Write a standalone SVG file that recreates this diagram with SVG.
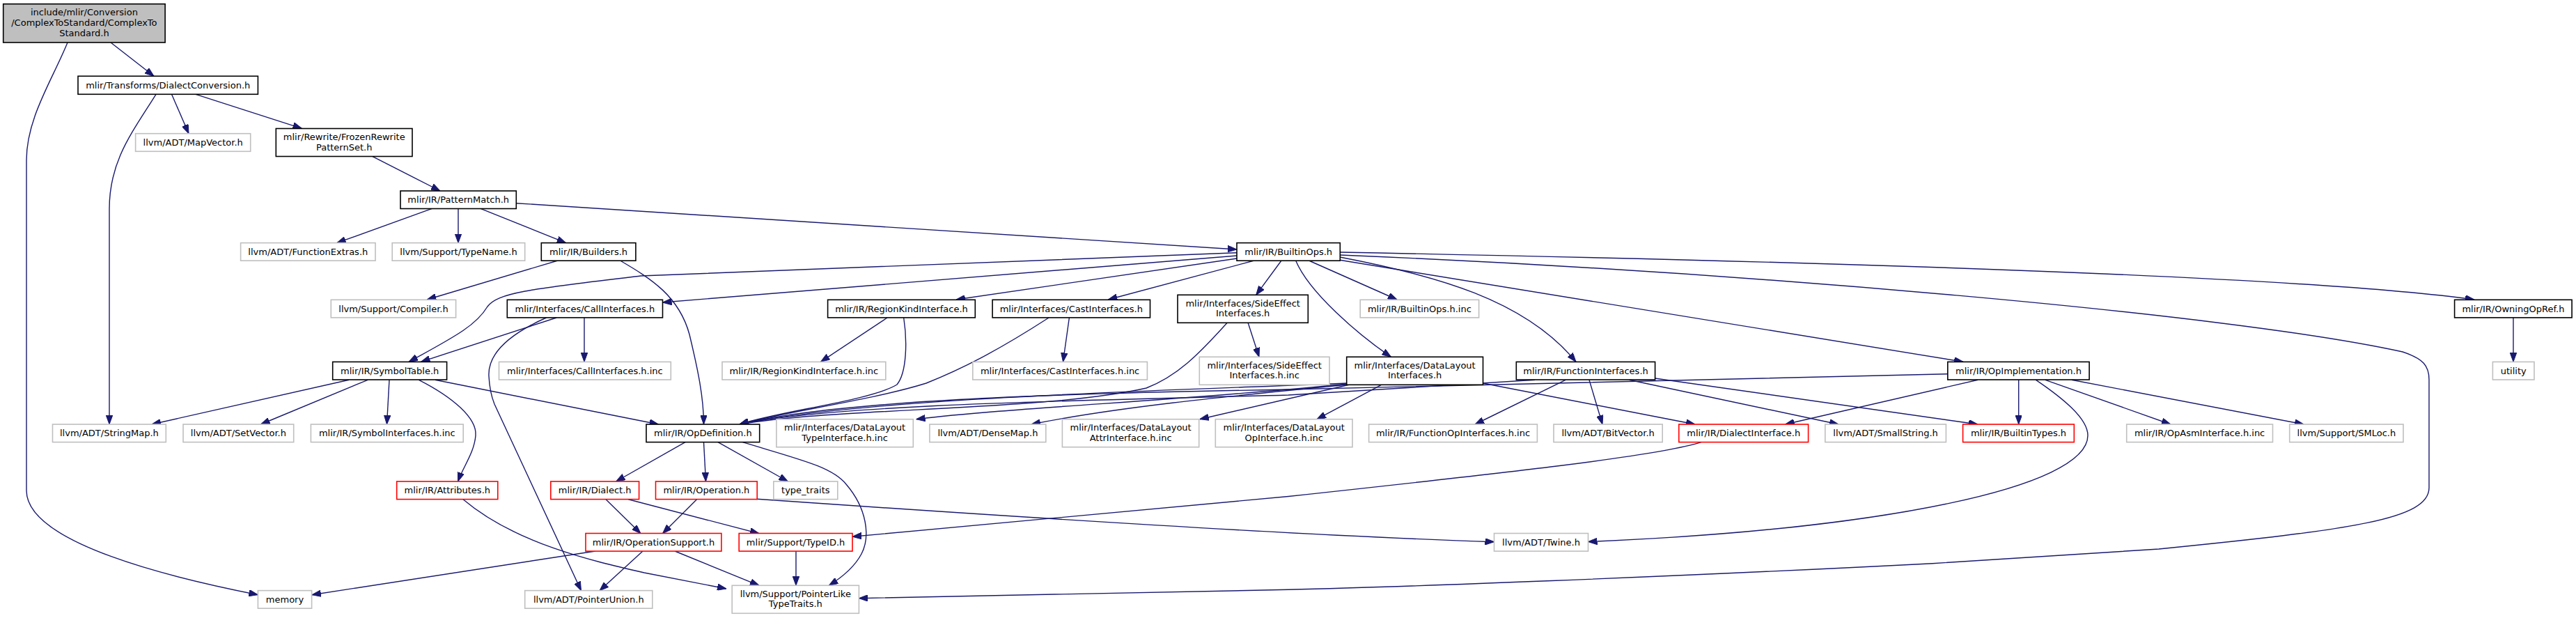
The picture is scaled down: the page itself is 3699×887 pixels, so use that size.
<svg xmlns="http://www.w3.org/2000/svg" width="3699" height="887" viewBox="0 0 3699 887">
<style>
.e{fill:none;stroke:#191970;stroke-width:1.4;marker-end:url(#ah)}
rect{stroke-width:1.6}
.b{fill:#fff;stroke:#000}
.g{fill:#fff;stroke:#bfbfbf}
.r{fill:#fff;stroke:#ff0000}
.root{fill:#bfbfbf;stroke:#000}
text{font-family:"DejaVu Sans",Verdana,sans-serif;font-size:13px;text-anchor:middle;fill:#000}
</style>
<defs>
<marker id="ah" viewBox="0 0 13 9.5" refX="13" refY="4.75" markerWidth="13" markerHeight="9.5" markerUnits="userSpaceOnUse" orient="auto">
<path d="M0,0 L13,4.75 L0,9.5 Z" fill="#191970" stroke="#191970" stroke-width="1"/>
</marker>
</defs>
<rect x="0" y="0" width="3699" height="887" fill="#fff"/>
<g id="edges">
<path class="e" d="M159,61 L221,109.3"/>
<path class="e" d="M97,61 C75,115 38,170 38,230 L38,704 C38,780 250,830 370.4,853.7"/>
<path class="e" d="M224,135.3 C190,190 157,230 157,300 L157,609"/>
<path class="e" d="M246.5,135.3 L271,191.7"/>
<path class="e" d="M281,135.3 L433.4,184.3"/>
<path class="e" d="M535,224.7 L632,274"/>
<path class="e" d="M741,291.7 L1776,358"/>
<path class="e" d="M620.4,299.3 L483.6,348.7"/>
<path class="e" d="M658,299.3 L658,348.7"/>
<path class="e" d="M690,299.3 L812.7,348.7"/>
<path class="e" d="M801,374 L613.3,430"/>
<path class="e" d="M890.5,374 C935,400 975,425 990,480 C1002,530 1010.5,570 1010.5,609"/>
<path class="e" d="M1776,362.7 L920,396 C760,415 715,420 700,440 C685,465 660,480 587,519.3"/>
<path class="e" d="M799,456 L604.5,519.3"/>
<path class="e" d="M839,456 L839,519.3"/>
<path class="e" d="M784.4,456 C735,478 700,505 702,540 C703,560 706,570 710,580 L834.5,847.7"/>
<path class="e" d="M1776,367 L951.5,434"/>
<path class="e" d="M1776,371 L1373,430"/>
<path class="e" d="M1801,374 L1591.4,430"/>
<path class="e" d="M1840,374 L1803.7,423.3"/>
<path class="e" d="M1274,456 L1178.6,519.3"/>
<path class="e" d="M1297.7,456 C1303,490 1302,535 1288,552 C1250,575 1120,590 1062,609"/>
<path class="e" d="M1535.4,456 L1526.5,519.3"/>
<path class="e" d="M1506,456 C1430,505 1380,530 1330,550 C1250,575 1120,592 1062,609"/>
<path class="e" d="M1792,463 L1808,512.3"/>
<path class="e" d="M1762.4,463 C1720,510 1690,540 1646,557 C1500,590 1200,585 1062,609"/>
<path class="e" d="M1879.5,374 L2006,430"/>
<path class="e" d="M1860.6,374 C1880,420 1950,480 1997.4,512.3"/>
<path class="e" d="M1924,369 C2060,395 2190,430 2263,519.3"/>
<path class="e" d="M1924,373.3 L2819,519.3"/>
<path class="e" d="M1924,362 C2600,375 3300,395 3553,430"/>
<path class="e" d="M1924,366 C2500,390 3200,450 3450,505 C3480,515 3488,525 3488,545 L3488,700 C3488,745 3380,760 3100,788 L2775,808.7 C2400,828 2000,843 1850,846.3 L1233.4,858.7"/>
<path class="e" d="M3609,456 L3609,519.3"/>
<path class="e" d="M501,545.3 L218,609"/>
<path class="e" d="M528,545.3 L374.5,609"/>
<path class="e" d="M559,545.3 L555.5,609"/>
<path class="e" d="M601.5,545.3 C650,570 685,600 683,625 C681,650 665,670 657.6,691"/>
<path class="e" d="M625,545.3 L945.6,609"/>
<path class="e" d="M984,634.7 L884.6,691"/>
<path class="e" d="M1010.5,634.7 L1013.5,691"/>
<path class="e" d="M1031,634.7 L1131.4,691"/>
<path class="e" d="M1066.5,634.7 C1150,660 1195,670 1215,695 C1245,730 1250,770 1237,795 C1228,812 1210,828 1190.4,840.3"/>
<path class="e" d="M870,716.7 L920,765.7"/>
<path class="e" d="M902.3,716.7 L1090,765.7"/>
<path class="e" d="M1000.5,716.7 L951.5,765.7"/>
<path class="e" d="M1087,716.3 C1500,745 1900,770 2145.5,777.7"/>
<path class="e" d="M665,716.7 C740,780 850,805 925,822 L1043,845"/>
<path class="e" d="M855,791 L448,853.7"/>
<path class="e" d="M923,791 L861,847.7"/>
<path class="e" d="M969,791 L1090,840.3"/>
<path class="e" d="M1143,791 L1143,840.3"/>
<path class="e" d="M2442.7,634.7 C2380,655 2150,680 1850,712.5 L1224,770.3"/>
<path class="e" d="M2129.5,550 L2434,609"/>
<path class="e" d="M2248,545.3 L2118,609"/>
<path class="e" d="M2282,545.3 L2301,609"/>
<path class="e" d="M2339.5,545.3 L2640,609"/>
<path class="e" d="M2376.6,543 L2840,609"/>
<path class="e" d="M2840,545.3 L2563.6,609"/>
<path class="e" d="M2898.7,545.3 L2898.7,609"/>
<path class="e" d="M2923.5,545.3 C2960,570 2998,600 2998,625 C2998,700 2700,760 2280.5,777.5"/>
<path class="e" d="M2937,545.3 L3116.8,609"/>
<path class="e" d="M2975,545.3 L3308,609"/>
<path class="e" d="M2796.8,536.7 L1850,559 C1500,565 1200,575 1062,609"/>
<path class="e" d="M2204,545.3 L1850,567 C1550,575 1200,580 1062,609"/>
<path class="e" d="M1934,550 C1700,560 1250,570 1062,609"/>
<path class="e" d="M1934,551 C1700,575 1450,585 1315.6,601.7"/>
<path class="e" d="M1936,552 C1750,570 1600,585 1481,609"/>
<path class="e" d="M1938,552 L1722.8,601.7"/>
<path class="e" d="M1983,552.7 L1891,601.7"/>
</g>
<g id="n_root"><rect class="root" x="4.7" y="5.7" width="232.4" height="55.3"/><text x="120.9" y="22">include/mlir/Conversion</text><text x="120.9" y="37">/ComplexToStandard/ComplexTo</text><text x="120.9" y="51.5">Standard.h</text></g>
<g id="n_dc"><rect class="b" x="112" y="109.3" width="258.4" height="26"/><text x="241.2" y="126.6">mlir/Transforms/DialectConversion.h</text></g>
<g id="n_mapvec"><rect class="g" x="194.6" y="191.7" width="165.1" height="25.6"/><text x="277.2" y="209">llvm/ADT/MapVector.h</text></g>
<g id="n_frozen"><rect class="b" x="396.3" y="184.5" width="195.7" height="40"/><text x="494.2" y="201">mlir/Rewrite/FrozenRewrite</text><text x="494.2" y="215.5">PatternSet.h</text></g>
<g id="n_pm"><rect class="b" x="575" y="274" width="166.3" height="25.5"/><text x="658.2" y="291.3">mlir/IR/PatternMatch.h</text></g>
<g id="n_funcext"><rect class="g" x="345.6" y="348.6" width="193.4" height="25.6"/><text x="442.3" y="366">llvm/ADT/FunctionExtras.h</text></g>
<g id="n_typename"><rect class="g" x="563.2" y="348.6" width="190.5" height="25.6"/><text x="658.5" y="366">llvm/Support/TypeName.h</text></g>
<g id="n_builders"><rect class="b" x="777.3" y="348.6" width="135.6" height="25.6"/><text x="845.1" y="366">mlir/IR/Builders.h</text></g>
<g id="n_builtinops"><rect class="b" x="1776" y="348.6" width="148.3" height="25.6"/><text x="1850.2" y="366">mlir/IR/BuiltinOps.h</text></g>
<g id="n_compiler"><rect class="g" x="475.3" y="430.3" width="179.3" height="25.6"/><text x="565" y="447.6">llvm/Support/Compiler.h</text></g>
<g id="n_callif"><rect class="b" x="728.3" y="430.3" width="223.2" height="25.6"/><text x="839.9" y="447.6">mlir/Interfaces/CallInterfaces.h</text></g>
<g id="n_regionkind"><rect class="b" x="1188.6" y="430.3" width="211.7" height="25.6"/><text x="1294.5" y="447.6">mlir/IR/RegionKindInterface.h</text></g>
<g id="n_castif"><rect class="b" x="1425.1" y="430.3" width="226.4" height="25.6"/><text x="1538.3" y="447.6">mlir/Interfaces/CastInterfaces.h</text></g>
<g id="n_sideeffect"><rect class="b" x="1691" y="423.3" width="187.3" height="40"/><text x="1784.7" y="439.8">mlir/Interfaces/SideEffect</text><text x="1784.7" y="454.3">Interfaces.h</text></g>
<g id="n_builtinopsinc"><rect class="g" x="1953.2" y="430.3" width="170.4" height="25.6"/><text x="2038.4" y="447.6">mlir/IR/BuiltinOps.h.inc</text></g>
<g id="n_owning"><rect class="b" x="3524.6" y="430.3" width="168.5" height="25.6"/><text x="3608.9" y="447.6">mlir/IR/OwningOpRef.h</text></g>
<g id="n_symtab"><rect class="b" x="477.7" y="519.4" width="163.9" height="25.6"/><text x="559.7" y="536.7">mlir/IR/SymbolTable.h</text></g>
<g id="n_callifinc"><rect class="g" x="716.5" y="519.4" width="246.8" height="25.6"/><text x="839.9" y="536.7">mlir/Interfaces/CallInterfaces.h.inc</text></g>
<g id="n_regionkindinc"><rect class="g" x="1037" y="519.4" width="234.8" height="25.6"/><text x="1154.4" y="536.7">mlir/IR/RegionKindInterface.h.inc</text></g>
<g id="n_castifinc"><rect class="g" x="1396.8" y="519.4" width="250.6" height="25.6"/><text x="1522.1" y="536.7">mlir/Interfaces/CastInterfaces.h.inc</text></g>
<g id="n_sideeffectinc"><rect class="g" x="1722.3" y="512.3" width="186.7" height="40"/><text x="1815.7" y="528.8">mlir/Interfaces/SideEffect</text><text x="1815.7" y="543.3">Interfaces.h.inc</text></g>
<g id="n_datalayout"><rect class="b" x="1933.7" y="512.3" width="195.8" height="40"/><text x="2031.6" y="528.8">mlir/Interfaces/DataLayout</text><text x="2031.6" y="543.3">Interfaces.h</text></g>
<g id="n_funcif"><rect class="b" x="2177.3" y="519.4" width="199.3" height="25.6"/><text x="2277" y="536.7">mlir/IR/FunctionInterfaces.h</text></g>
<g id="n_opimpl"><rect class="b" x="2796.8" y="519.4" width="203.3" height="25.6"/><text x="2898.5" y="536.7">mlir/IR/OpImplementation.h</text></g>
<g id="n_utility"><rect class="g" x="3579.4" y="519.4" width="59.6" height="25.6"/><text x="3609.2" y="536.7">utility</text></g>
<g id="n_stringmap"><rect class="g" x="75.5" y="609" width="162.8" height="25.6"/><text x="156.9" y="626.3">llvm/ADT/StringMap.h</text></g>
<g id="n_setvector"><rect class="g" x="263" y="609" width="158.7" height="25.6"/><text x="342.4" y="626.3">llvm/ADT/SetVector.h</text></g>
<g id="n_symifinc"><rect class="g" x="446.4" y="609" width="218.8" height="25.6"/><text x="555.8" y="626.3">mlir/IR/SymbolInterfaces.h.inc</text></g>
<g id="n_opdef"><rect class="b" x="928" y="609" width="162.7" height="25.6"/><text x="1009.4" y="626.3">mlir/IR/OpDefinition.h</text></g>
<g id="n_dltype"><rect class="g" x="1114.9" y="601.7" width="196.4" height="40"/><text x="1213.1" y="618.2">mlir/Interfaces/DataLayout</text><text x="1213.1" y="632.7">TypeInterface.h.inc</text></g>
<g id="n_densemap"><rect class="g" x="1334.9" y="609" width="166.9" height="25.6"/><text x="1418.4" y="626.3">llvm/ADT/DenseMap.h</text></g>
<g id="n_dlattr"><rect class="g" x="1525.4" y="601.7" width="196.3" height="40"/><text x="1623.6" y="618.2">mlir/Interfaces/DataLayout</text><text x="1623.6" y="632.7">AttrInterface.h.inc</text></g>
<g id="n_dlop"><rect class="g" x="1745.3" y="601.7" width="196.7" height="40"/><text x="1843.7" y="618.2">mlir/Interfaces/DataLayout</text><text x="1843.7" y="632.7">OpInterface.h.inc</text></g>
<g id="n_funcopinc"><rect class="g" x="1965.6" y="609" width="241.8" height="25.6"/><text x="2086.5" y="626.3">mlir/IR/FunctionOpInterfaces.h.inc</text></g>
<g id="n_bitvector"><rect class="g" x="2231" y="609" width="156.2" height="25.6"/><text x="2309.1" y="626.3">llvm/ADT/BitVector.h</text></g>
<g id="n_dialectif"><rect class="r" x="2410.8" y="609" width="185.8" height="25.6"/><text x="2503.7" y="626.3">mlir/IR/DialectInterface.h</text></g>
<g id="n_smallstring"><rect class="g" x="2620.8" y="609" width="173.6" height="25.6"/><text x="2707.6" y="626.3">llvm/ADT/SmallString.h</text></g>
<g id="n_builtintypes"><rect class="r" x="2818.6" y="609" width="159.7" height="25.6"/><text x="2898.5" y="626.3">mlir/IR/BuiltinTypes.h</text></g>
<g id="n_opasminc"><rect class="g" x="3053.7" y="609" width="209.8" height="25.6"/><text x="3158.6" y="626.3">mlir/IR/OpAsmInterface.h.inc</text></g>
<g id="n_smloc"><rect class="g" x="3287.7" y="609" width="163.3" height="25.6"/><text x="3369.4" y="626.3">llvm/Support/SMLoc.h</text></g>
<g id="n_attributes"><rect class="r" x="569.7" y="691" width="145.1" height="25.6"/><text x="642.3" y="708.3">mlir/IR/Attributes.h</text></g>
<g id="n_dialect"><rect class="r" x="790.8" y="691" width="126.8" height="25.6"/><text x="854.2" y="708.3">mlir/IR/Dialect.h</text></g>
<g id="n_operation"><rect class="r" x="941.5" y="691" width="145.7" height="25.6"/><text x="1014.4" y="708.3">mlir/IR/Operation.h</text></g>
<g id="n_typetraits"><rect class="g" x="1110.8" y="691" width="92" height="25.6"/><text x="1156.8" y="708.3">type_traits</text></g>
<g id="n_opsupport"><rect class="r" x="841" y="765.5" width="194.9" height="25.6"/><text x="938.5" y="782.8">mlir/IR/OperationSupport.h</text></g>
<g id="n_typeid"><rect class="r" x="1061.2" y="765.5" width="162.8" height="25.6"/><text x="1142.6" y="782.8">mlir/Support/TypeID.h</text></g>
<g id="n_twine"><rect class="g" x="2145.5" y="765.5" width="135" height="25.6"/><text x="2213" y="782.8">llvm/ADT/Twine.h</text></g>
<g id="n_memory"><rect class="g" x="370.4" y="847.6" width="77.2" height="25.6"/><text x="409" y="864.9">memory</text></g>
<g id="n_ptrunion"><rect class="g" x="753.7" y="847.6" width="183.1" height="25.6"/><text x="845.3" y="864.9">llvm/ADT/PointerUnion.h</text></g>
<g id="n_ptrlike"><rect class="g" x="1051.2" y="840.3" width="182.2" height="40"/><text x="1142.3" y="856.8">llvm/Support/PointerLike</text><text x="1142.3" y="871.3">TypeTraits.h</text></g>
</svg>
